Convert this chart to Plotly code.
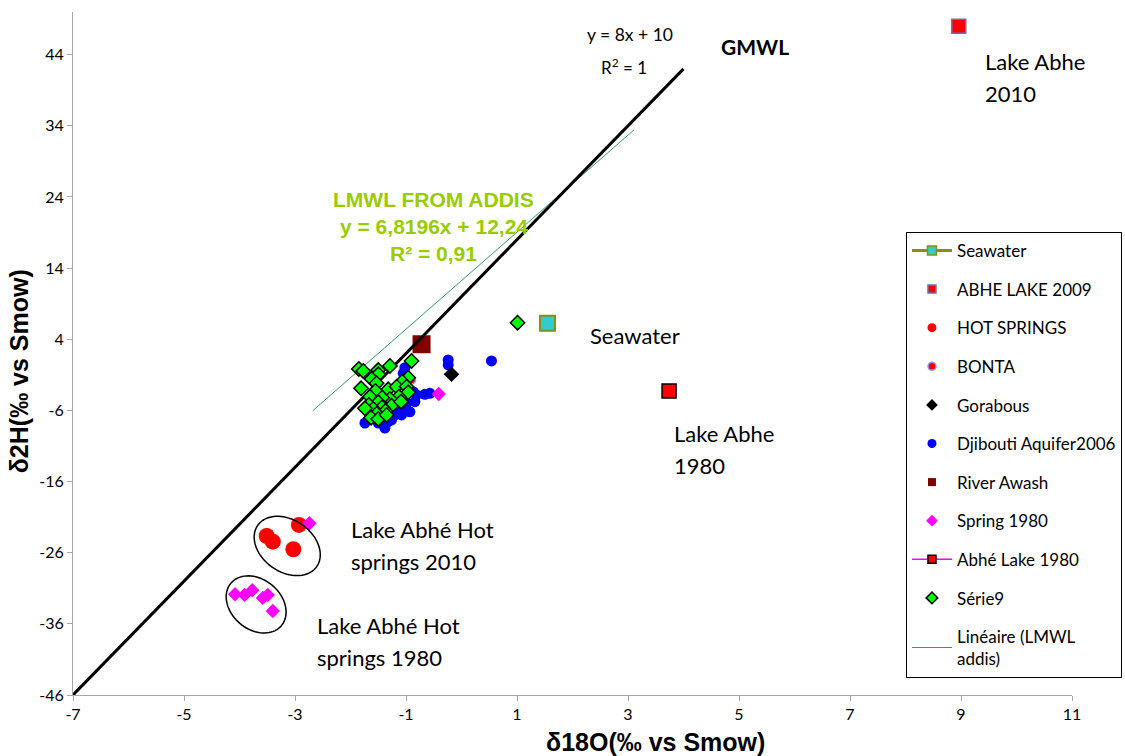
import numpy as np
import plotly.graph_objects as go

# ---------------- data ----------------
gmwl_x = [-7, 4]
gmwl_y = [-46, 42]
lmwl_x = [-2.68, 3.11]
lmwl_y = [-6.04, 33.45]

seawater_x = [1.55]
seawater_y = [6.25]
abhe2009_x = [8.96]
abhe2009_y = [48.0]
hot_x = [-3.51, -3.40, -3.03, -2.93]
hot_y = [-23.65, -24.45, -25.51, -22.10]
bonta_x = [-0.90]
bonta_y = [-1.72]
gorabous_x = [-0.18]
gorabous_y = [-0.92]
djib_x = [-1.74, -1.50, -1.38, -1.26, -1.08, -1.02, -0.99, -0.81, -0.66, -0.57, -0.84,
          -1.05, -1.02, -0.87, -1.20, -1.32, -0.24, -0.24, 0.54, -0.93, -1.14]
djib_y = [-7.77, -7.77, -8.47, -7.34, -6.64, -5.70, -5.00, -3.83, -3.73, -3.59, -4.77,
          -0.78, 0.00, -3.36, -6.64, -7.58, 1.09, 0.39, 0.95, -6.20, -5.90]
awash_x = [-0.72]
awash_y = [3.30]
spring_x = [-4.08, -3.91, -3.77, -3.58, -3.49, -3.40, -2.74, -0.41]
spring_y = [-31.84, -31.94, -31.28, -32.36, -31.94, -34.19, -21.86, -3.69]
abhe1980_x = [3.74]
abhe1980_y = [-3.27]
serie9_x = [-0.90, -1.85, -1.77, -1.50, -1.29, -1.50, -1.62, -0.96, -1.07, -1.81, -1.53,
            -1.32, -1.55, -1.17, -0.99, -0.96, -1.65, -1.13, -1.29, -1.43, -1.50, -1.67,
            -1.26, -1.43, -1.59, -1.37, -1.53, -1.63, -1.50, -1.35, -1.74, -1.09, 1.01]
serie9_y = [0.95, -0.17, -0.45, -0.32, 0.25, -0.92, -1.58, -1.40, -1.96, -2.89, -2.18,
            -3.03, -3.27, -2.66, -2.66, -3.45, -4.07, -4.07, -4.39, -4.21, -4.86, -5.23,
            -5.33, -5.56, -5.80, -6.08, -6.46, -7.02, -7.20, -6.64, -5.70, -4.77, 6.33]

x_ticks = [-7, -5, -3, -1, 1, 3, 5, 7, 9, 11]
x_tick_labels = ["-7", "-5", "-3", "-1", "1", "3", "5", "7", "9", "11"]
y_ticks = [-46, -36, -26, -16, -6, 4, 14, 24, 34, 44]
y_tick_labels = ["-46", "-36", "-26", "-16", "-6", "4", "14", "24", "34", "44"]

X_RANGE = [-7, 11]
Y_RANGE = [-46, 50]

FONT = "Lato, 'Open Sans', sans-serif"
ARIAL = "'Liberation Sans', Arial, sans-serif"
LMWL_GREEN = "#99cc00"

fig = go.Figure()

# ---------------- plotted series (no legend) ----------------
fig.add_trace(go.Scatter(x=lmwl_x, y=lmwl_y, mode="lines",
                         line=dict(color="#2f9a62", width=1), showlegend=False, hoverinfo="skip"))
fig.add_trace(go.Scatter(x=seawater_x, y=seawater_y, mode="markers", showlegend=False,
                         marker=dict(symbol="square", size=15, color="#33cccc",
                                     line=dict(color="#8c8c1a", width=2))))
fig.add_trace(go.Scatter(x=abhe2009_x, y=abhe2009_y, mode="markers", showlegend=False,
                         marker=dict(symbol="square", size=14, color="#ff0000",
                                     line=dict(color="#7070a8", width=1.5))))
fig.add_trace(go.Scatter(x=hot_x, y=hot_y, mode="markers", showlegend=False,
                         marker=dict(symbol="circle", size=16, color="#ff0000")))
fig.add_trace(go.Scatter(x=bonta_x, y=bonta_y, mode="markers", showlegend=False,
                         marker=dict(symbol="circle", size=8, color="#ff0000",
                                     line=dict(color="#9999ff", width=1.5))))
fig.add_trace(go.Scatter(x=djib_x, y=djib_y, mode="markers", showlegend=False,
                         marker=dict(symbol="circle", size=11, color="#0000ff")))
fig.add_trace(go.Scatter(x=gorabous_x, y=gorabous_y, mode="markers", showlegend=False,
                         marker=dict(symbol="diamond", size=12, color="#000000")))
fig.add_trace(go.Scatter(x=awash_x, y=awash_y, mode="markers", showlegend=False,
                         marker=dict(symbol="square", size=18, color="#800000")))
fig.add_trace(go.Scatter(x=spring_x, y=spring_y, mode="markers", showlegend=False,
                         marker=dict(symbol="diamond", size=11, color="#ff00ff")))
fig.add_trace(go.Scatter(x=abhe1980_x, y=abhe1980_y, mode="markers", showlegend=False,
                         marker=dict(symbol="square", size=14, color="#ff0000",
                                     line=dict(color="#000000", width=1.5))))
fig.add_trace(go.Scatter(x=gmwl_x, y=gmwl_y, mode="lines", showlegend=False,
                         line=dict(color="#000000", width=3), hoverinfo="skip"))
fig.add_trace(go.Scatter(x=serie9_x, y=serie9_y, mode="markers", showlegend=False,
                         marker=dict(symbol="diamond", size=11, color="#00ff00",
                                     line=dict(color="#000000", width=1.5))))

# ---------------- legend-only entries ----------------
legend_specs = [
    ("Seawater", "lines+markers", dict(symbol="square", size=9, color="#33cccc", line=dict(color="#8c8c1a", width=1.5)), dict(color="#8c8c1a", width=3)),
    ("ABHE LAKE 2009", "markers", dict(symbol="square", size=8, color="#ff0000", line=dict(color="#7070a8", width=1.5)), None),
    ("HOT SPRINGS", "markers", dict(symbol="circle", size=9, color="#ff0000"), None),
    ("BONTA", "markers", dict(symbol="circle", size=8, color="#ff0000", line=dict(color="#9999ff", width=1.5)), None),
    ("Gorabous", "markers", dict(symbol="diamond", size=9, color="#000000"), None),
    ("Djibouti Aquifer2006", "markers", dict(symbol="circle", size=9, color="#0000ff"), None),
    ("River Awash", "markers", dict(symbol="square", size=8, color="#800000"), None),
    ("Spring 1980", "markers", dict(symbol="diamond", size=9, color="#ff00ff"), None),
    ("Abhé Lake 1980", "lines+markers", dict(symbol="square", size=8, color="#ff0000", line=dict(color="#000000", width=1.5)), dict(color="#ff00ff", width=1.5)),
    ("Série9", "markers", dict(symbol="diamond", size=9, color="#00ff00", line=dict(color="#000000", width=1.5)), None),
    ("Linéaire (LMWL<br>addis)", "lines", None, dict(color="#2f9a62", width=1)),
]
for i, (name, mode, mk, ln) in enumerate(legend_specs):
    kw = dict(x=[None], y=[None], mode=mode, name=name, legendgroup=f"g{i}", showlegend=True)
    if mk is not None:
        kw["marker"] = mk
    if ln is not None:
        kw["line"] = ln
    fig.add_trace(go.Scatter(**kw))

# ---------------- ellipses around hot springs ----------------
SX = 999 / (X_RANGE[1] - X_RANGE[0])   # px per x unit
SY = 683 / (Y_RANGE[1] - Y_RANGE[0])   # px per y unit


def ellipse_path(cx, cy, a_px, b_px, ang_deg, n=80):
    t = np.linspace(0, 2 * np.pi, n)
    th = np.radians(ang_deg)
    dx = a_px * np.cos(t) * np.cos(th) - b_px * np.sin(t) * np.sin(th)
    dy = a_px * np.cos(t) * np.sin(th) + b_px * np.sin(t) * np.cos(th)
    xs = cx + dx / SX
    ys = cy - dy / SY
    pts = " L ".join(f"{x:.4f},{y:.4f}" for x, y in zip(xs, ys))
    return "M " + pts + " Z"


ellipses = [(-3.14, -25.05, 36, 26, 35), (-3.70, -33.27, 33, 25, 40)]
for cx, cy, a, b, ang in ellipses:
    fig.add_shape(type="path", path=ellipse_path(cx, cy, a, b, ang), xref="x", yref="y",
                  line=dict(color="#000000", width=1.5), layer="above")

# ---------------- text annotations ----------------
def txt(x, y, text, size=22, color="#000000", bold=False, family=FONT, xanchor="left"):
    if bold:
        text = f"<b>{text}</b>"
    fig.add_annotation(x=x, y=y, xref="x", yref="y", text=text, showarrow=False,
                       xanchor=xanchor, yanchor="middle",
                       font=dict(family=family, size=size, color=color))


txt(3.04, 46.9, "y = 8x + 10", size=17.5, xanchor="center")
txt(2.92, 42.4, "R<sup>2</sup> = 1", size=17, xanchor="center")
txt(5.29, 45.2, "GMWL", size=21, bold=True, xanchor="center")
txt(-0.50, 23.7, "LMWL FROM ADDIS", size=21, color=LMWL_GREEN, bold=True, family=ARIAL, xanchor="center")
txt(-0.50, 19.9, "y = 6,8196x + 12,24", size=21, color=LMWL_GREEN, bold=True, family=ARIAL, xanchor="center")
txt(-0.50, 16.1, "R² = 0,91", size=21, color=LMWL_GREEN, bold=True, family=ARIAL, xanchor="center")
txt(2.28, 4.6, "Seawater")
txt(3.79, -9.2, "Lake Abhe")
txt(3.79, -13.8, "1980")
txt(9.40, 43.1, "Lake Abhe")
txt(9.40, 38.6, "2010")
txt(-2.03, -22.8, "Lake Abhé Hot")
txt(-2.03, -27.3, "springs 2010")
txt(-2.64, -36.2, "Lake Abhé Hot")
txt(-2.64, -40.7, "springs 1980")

# axis titles
fig.add_annotation(x=0.5826, y=-0.069, xref="paper", yref="paper", showarrow=False,
                   text="<b>δ18O(‰ vs Smow)</b>", xanchor="center", yanchor="middle",
                   font=dict(family=ARIAL, size=25, color="#000000"))
fig.add_annotation(x=-0.054, y=0.474, xref="paper", yref="paper", showarrow=False,
                   text="<b>δ2H(‰ vs Smow)</b>", textangle=-90, xanchor="center", yanchor="middle",
                   font=dict(family=ARIAL, size=25, color="#000000"))

axis_common = dict(showgrid=False, zeroline=False, showline=True, linecolor="#a6a6a6", linewidth=1,
                   ticks="outside", ticklen=5, tickcolor="#a6a6a6",
                   tickfont=dict(family=FONT, size=16, color="#000000"), mirror=False)

fig.update_layout(
    width=1125, height=756,
    margin=dict(l=73, r=53, t=12, b=61, autoexpand=False),
    paper_bgcolor="white", plot_bgcolor="white",
    xaxis=dict(range=X_RANGE, tickvals=x_ticks, ticktext=x_tick_labels, **axis_common),
    yaxis=dict(range=Y_RANGE, tickvals=y_ticks, ticktext=y_tick_labels, **axis_common),
    legend=dict(x=0.8338, y=0.678, xanchor="left", yanchor="top",
                bgcolor="white", bordercolor="#000000", borderwidth=1,
                font=dict(family=FONT, size=17, color="#000000"),
                tracegroupgap=13.5, itemwidth=40),
    showlegend=True,
)

# remove the browser's default 8px body margin so the figure fills the window exactly
fig.write_html("out.html", config={"displayModeBar": False},
               post_script="document.body.style.margin='0';")
